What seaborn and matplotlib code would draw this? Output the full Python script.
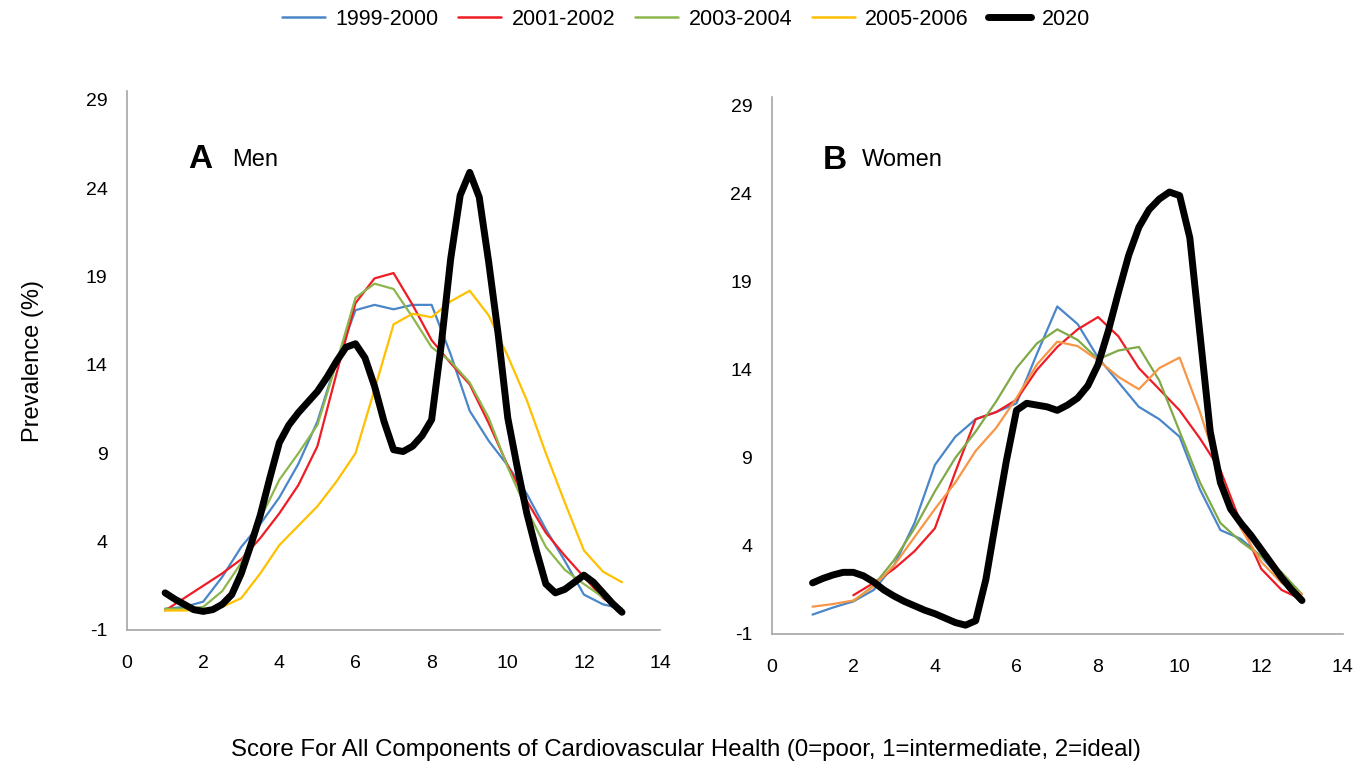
import numpy as np
import pandas as pd
import seaborn as sns
import matplotlib.pyplot as plt

# --- data (score 1..13) ---
score = np.arange(1, 13.01, 0.5)        # thin survey lines
score_fine = np.arange(1, 13.01, 0.25)  # thick 2020 lines

periods = ["1999-2000", "2001-2002", "2003-2004", "2005-2006"]

men_1999 = [0.2, 0.3, 0.6, 2.0, 3.7, 5.0, 6.5, 8.4, 10.8, 14.2, 17.1, 17.4, 17.15,
            17.4, 17.4, 14.6, 11.4, 9.7, 8.3, 6.7, 4.7, 2.9, 1.0, 0.45, 0.2]
men_2001 = [0.1, 0.8, 1.5, 2.2, 3.0, 4.2, 5.6, 7.2, 9.4, 13.5, 17.5, 18.9, 19.2,
            17.4, 15.4, 14.1, 12.9, 10.7, 8.3, 6.3, 4.5, 3.2, 2.0, 0.8, 0.1]
men_2003 = [0.2, 0.2, 0.3, 1.2, 2.8, 5.3, 7.5, 9.0, 10.6, 14.1, 17.8, 18.6, 18.3,
            16.7, 15.0, 14.2, 13.0, 11.0, 8.2, 5.8, 3.7, 2.4, 1.6, 0.85, 0.2]
men_2005 = [0.1, 0.1, 0.15, 0.3, 0.8, 2.2, 3.8, 4.9, 6.0, 7.4, 9.0, 12.6, 16.3,
            16.9, 16.7, 17.6, 18.2, 16.8, 14.5, 12.0, 9.0, 6.2, 3.5, 2.3, 1.7]
men_2020 = [1.1, 0.75, 0.45, 0.15, 0.05, 0.15, 0.45, 1.0, 2.2, 3.8, 5.5, 7.6, 9.6,
            10.6, 11.3, 11.9, 12.5, 13.3, 14.2, 15.0, 15.2, 14.4, 12.8, 10.8, 9.2,
            9.1, 9.4, 10.0, 10.9, 15.1, 20.0, 23.6, 24.9, 23.5, 19.8, 15.7, 11.0,
            8.2, 5.6, 3.5, 1.6, 1.1, 1.3, 1.7, 2.1, 1.7, 1.1, 0.5, 0.0]

women_1999 = [0.1, 0.5, 0.85, 1.5, 2.9, 5.3, 8.6, 10.2, 11.2, 11.6, 12.1, 14.9, 17.6,
              16.6, 14.7, 13.3, 11.9, 11.2, 10.2, 7.2, 4.9, 4.4, 3.4, 2.1, 0.9]
women_2001 = [np.nan, np.nan, 1.2, 1.9, 2.7, 3.7, 5.0, 8.2, 11.2, 11.6, 12.3, 14.0, 15.3,
              16.3, 17.0, 15.9, 14.1, 12.9, 11.7, 10.1, 8.3, 5.3, 2.7, 1.5, 0.95]
women_2003 = [np.nan, np.nan, 0.85, 1.75, 3.2, 5.0, 7.1, 9.0, 10.5, 12.2, 14.1, 15.5, 16.3,
              15.7, 14.6, 15.1, 15.3, 13.4, 10.5, 7.6, 5.3, 4.25, 3.4, 2.5, 1.25]
women_2005 = [0.55, 0.7, 0.9, 1.7, 2.9, 4.5, 6.1, 7.6, 9.4, 10.7, 12.4, 14.3, 15.6,
              15.35, 14.55, 13.6, 12.9, 14.1, 14.7, 11.6, 8.0, 5.0, 3.1, 1.9, 1.25]
women_2020 = [1.9, 2.15, 2.35, 2.5, 2.5, 2.3, 1.95, 1.5, 1.15, 0.85, 0.6, 0.35, 0.15,
              -0.1, -0.35, -0.5, -0.25, 2.1, 5.5, 8.8, 11.7, 12.1, 12.0, 11.9, 11.7,
              12.0, 12.4, 13.1, 14.3, 16.2, 18.4, 20.5, 22.1, 23.1, 23.7, 24.1, 23.9,
              21.5, 16.0, 10.5, 7.6, 6.1, 5.3, 4.6, 3.8, 3.0, 2.2, 1.5, 0.9]

men_colors = ["#4a86c8", "#ee1c25", "#8db64c", "#ffc000"]
women_colors = ["#4a86c8", "#ee1c25", "#7faa47", "#f79646"]


def long_frame(series):
    parts = [pd.DataFrame({"score": score, "prev": vals, "period": p})
             for p, vals in zip(periods, series)]
    return pd.concat(parts, ignore_index=True)


men = long_frame([men_1999, men_2001, men_2003, men_2005])
women = long_frame([women_1999, women_2001, women_2003, women_2005])

sns.set_style("white")
plt.rcParams['font.family'] = ['Liberation Sans', 'DejaVu Sans']
plt.rcParams['axes.unicode_minus'] = False
plt.rcParams['text.color'] = "black"
plt.rcParams['axes.labelcolor'] = "black"

fig = plt.figure(figsize=(13.72, 7.72), dpi=100)
ax_a = fig.add_axes([0.0926, 0.184, 0.3885, 0.698])
ax_b = fig.add_axes([0.5625, 0.1788, 0.4162, 0.6956])

panels = [
    (ax_a, men, men_colors, men_2020, "A", "Men", 1.6, 2.75, 25.6),
    (ax_b, women, women_colors, women_2020, "B", "Women", 1.25, 2.2, 25.9),
]
for ax, df, cols, black, letter, name, lx, nx, ty in panels:
    sns.lineplot(data=df, x="score", y="prev", hue="period", palette=cols,
                 linewidth=1.6, ax=ax, legend=False,
                 solid_joinstyle="round", solid_capstyle="round")
    sns.lineplot(x=score_fine, y=black, color="black", linewidth=5,
                 ax=ax, legend=False,
                 solid_joinstyle="round", solid_capstyle="round")
    ax.set_xlim(0, 14)
    ax.set_ylim(-1, 29.5)
    ax.set_xticks(range(0, 15, 2))
    ax.set_yticks([-1, 4, 9, 14, 19, 24, 29])
    ax.set_xlabel("")
    ax.set_ylabel("")
    for s in ["top", "right"]:
        ax.spines[s].set_visible(False)
    for s in ["left", "bottom"]:
        ax.spines[s].set_color("#a6a6a6")
        ax.spines[s].set_linewidth(1.2)
    ax.tick_params(axis="both", direction="out", length=6, width=1.2,
                   color="#a6a6a6", labelsize=14, labelcolor="black")
    ax.tick_params(axis="x", pad=12)
    ax.tick_params(axis="y", pad=8)
    ax.text(lx, ty, letter, fontsize=24, fontweight="bold", va="center", ha="left")
    ax.text(nx, ty, name, fontsize=17, va="center", ha="left")

ax_a.set_ylabel("Prevalence (%)", fontsize=17, labelpad=30)
fig.text(0.5, 0.028, "Score For All Components of Cardiovascular Health "
         "(0=poor, 1=intermediate, 2=ideal)", fontsize=17.3, ha="center", va="center")

# legend from panel A handles
handles = [plt.Line2D([], [], color=c, linewidth=1.8) for c in men_colors]
handles.append(plt.Line2D([], [], color="black", linewidth=5))
fig.legend(handles, periods + ["2020"], loc="upper center", ncol=5,
           bbox_to_anchor=(0.5, 1.014), frameon=False, fontsize=15.5,
           handlelength=2.0, columnspacing=0.9, handletextpad=0.5)

fig.savefig("out.png", dpi=100)
